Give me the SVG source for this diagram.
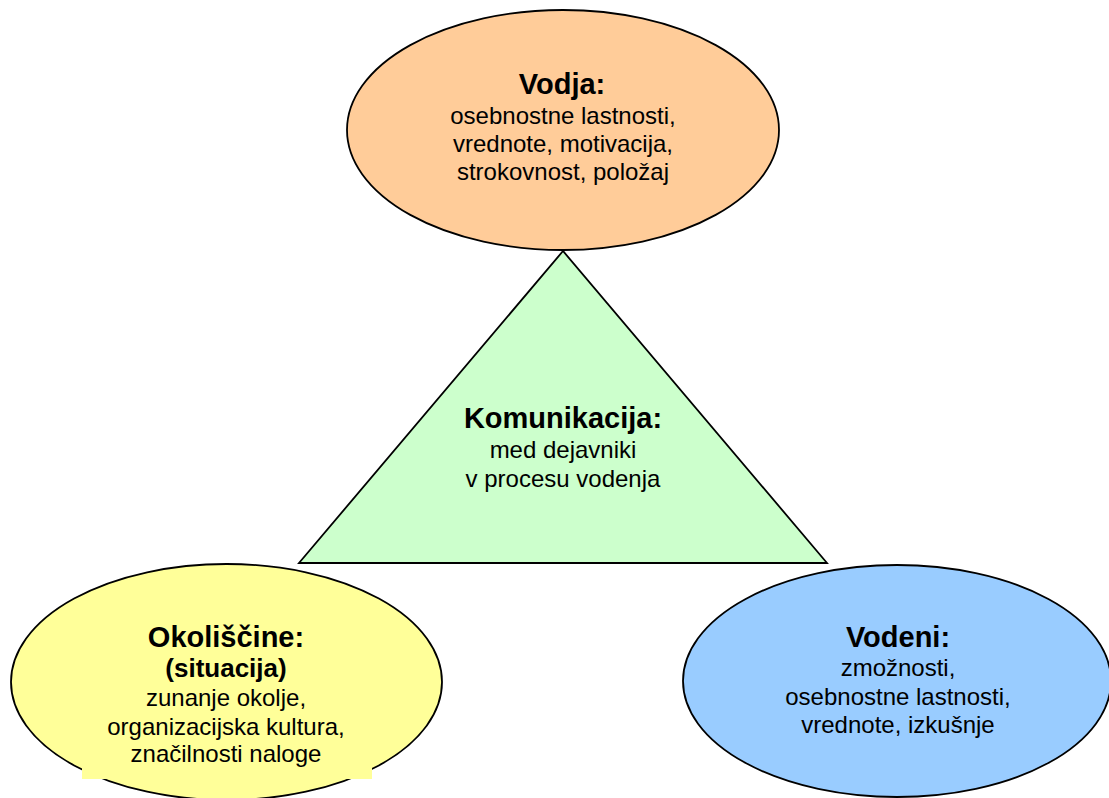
<svg xmlns="http://www.w3.org/2000/svg" width="1109" height="798" viewBox="0 0 1109 798">
<style>
.shape{stroke:#000;stroke-width:1.8}
.t{font-family:"Liberation Sans",Arial,sans-serif;font-size:24px;fill:#000;text-anchor:middle}
.b{font-weight:bold;font-size:29px}
</style>
<rect width="1109" height="798" fill="#fff"/>
<g id="connectors"></g>
<g id="vodja">
<ellipse class="shape" cx="563" cy="130" rx="216" ry="120" fill="#FFCC99"/>
<text class="t b" x="562" y="94">Vodja:</text>
<text class="t" x="563" y="124">osebnostne lastnosti,</text>
<text class="t" x="563" y="152">vrednote, motivacija,</text>
<text class="t" x="563" y="180">strokovnost, položaj</text>
</g>
<g id="komunikacija">
<polygon class="shape" points="563,251 299,563 827,563" fill="#CCFFCC" stroke-linejoin="miter"/>
<text class="t b" x="563" y="428">Komunikacija:</text>
<text class="t" x="563" y="458">med dejavniki</text>
<text class="t" x="563" y="487">v procesu vodenja</text>
</g>
<g id="okoliscine">
<ellipse class="shape" cx="226.5" cy="682" rx="215.5" ry="118" fill="#FFFF99"/>
<rect x="82" y="700" width="290" height="79" fill="#FFFF99"/>
<text class="t b" x="226" y="647">Okoliščine:</text>
<text class="t b" x="226" y="677" style="font-size:26px">(situacija)</text>
<text class="t" x="226" y="706">zunanje okolje,</text>
<text class="t" x="226" y="735">organizacijska kultura,</text>
<text class="t" x="226" y="762">značilnosti naloge</text>
</g>
<g id="vodeni">
<ellipse class="shape" cx="897" cy="681" rx="214" ry="116" fill="#99CCFF"/>
<text class="t b" x="898" y="647">Vodeni:</text>
<text class="t" x="898" y="676">zmožnosti,</text>
<text class="t" x="898" y="705">osebnostne lastnosti,</text>
<text class="t" x="898" y="733">vrednote, izkušnje</text>
</g>
</svg>
